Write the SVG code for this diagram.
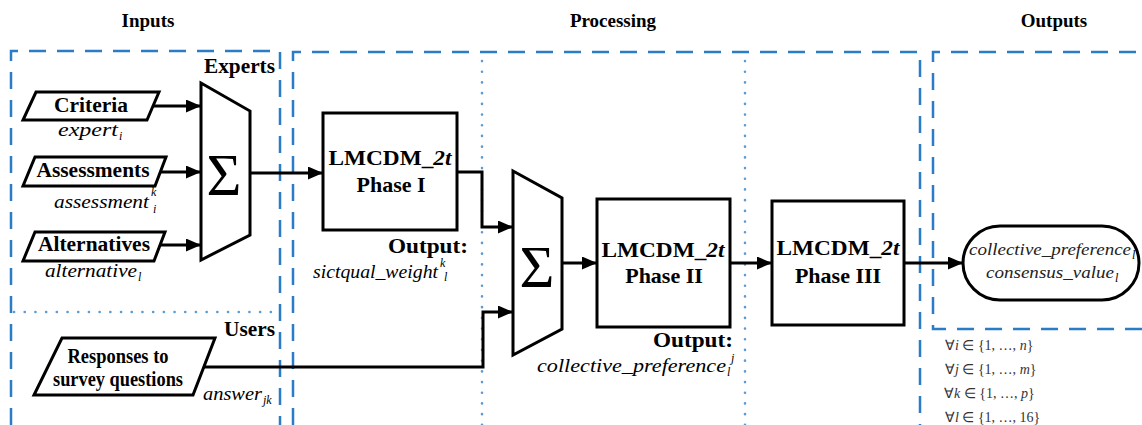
<svg xmlns="http://www.w3.org/2000/svg" width="1142" height="425" viewBox="0 0 1142 425">
<style>
.title{font-family:'Liberation Serif',serif;font-weight:bold;font-size:19px;fill:#000;text-anchor:middle}
.lbl{font-family:'Liberation Serif',serif;font-weight:bold;font-size:20px;fill:#000}
.box{font-family:'Liberation Serif',serif;font-weight:bold;font-size:22px;fill:#000;text-anchor:middle}
.it{font-family:'Liberation Serif',serif;font-style:italic;font-size:19px;fill:#000}
.sub{font-family:'Liberation Serif',serif;font-style:italic;font-size:12px;fill:#000}
.out{font-family:'Liberation Serif',serif;font-style:italic;font-size:17px;fill:#222}
.math{font-family:'Liberation Serif',serif;font-size:14px;fill:#333}
.sig{font-family:'Liberation Serif',serif;font-size:60px;fill:#000;text-anchor:middle}
.shape{fill:#fff;stroke:#000;stroke-width:3;stroke-linejoin:miter}
.dash{fill:none;stroke:#2A7CC7;stroke-width:2.5;stroke-dasharray:17 11}
.dot{fill:none;stroke:#5B9BD5;stroke-width:2.6;stroke-dasharray:0.1 10.6;stroke-linecap:round}
.con{fill:none;stroke:#000;stroke-width:3}
</style>
<defs>
<marker id="ah" markerWidth="15" markerHeight="13" refX="15" refY="6.5" orient="auto" markerUnits="userSpaceOnUse"><path d="M0,0 L15,6.5 L0,13 z" fill="#000"/></marker>
</defs>
<rect width="1142" height="425" fill="#fff"/>
<g id="titles">
<text class="title" x="148" y="27">Inputs</text>
<text class="title" x="613" y="27">Processing</text>
<text class="title" x="1054" y="27">Outputs</text>
</g>
<g id="regions">
<path class="dash" d="M11,425 V51 H280 V425"/>
<path class="dash" d="M293,425 V52 H920 V425"/>
<path class="dash" d="M1142,329 H933 V52 H1142"/>
<path class="dot" d="M14,312 H280"/>
<path class="dot" d="M482,61 V425"/>
<path class="dot" d="M745,61 V425"/>
<text class="lbl" x="275" y="73" text-anchor="end" textLength="71" lengthAdjust="spacingAndGlyphs">Experts</text>
<text class="lbl" x="275" y="336" text-anchor="end" textLength="51" lengthAdjust="spacingAndGlyphs">Users</text>
</g>
<g id="connectors">
<line class="con" x1="153" y1="106" x2="201" y2="106" marker-end="url(#ah)"/>
<line class="con" x1="160" y1="172" x2="201" y2="172" marker-end="url(#ah)"/>
<line class="con" x1="159" y1="245" x2="201" y2="245" marker-end="url(#ah)"/>
<line class="con" x1="250" y1="173" x2="323" y2="173" marker-end="url(#ah)"/>
<path class="con" d="M457,172 H482 V227 H513" marker-end="url(#ah)"/>
<path class="con" d="M204,367 H483 V312 H513" marker-end="url(#ah)"/>
<line class="con" x1="562" y1="263" x2="597" y2="263" marker-end="url(#ah)"/>
<line class="con" x1="730" y1="263" x2="772" y2="263" marker-end="url(#ah)"/>
<line class="con" x1="904" y1="263" x2="963" y2="263" marker-end="url(#ah)"/>
</g>
<g id="criteria">
<polygon class="shape" points="36,92 159,92 147,120 23,120"/>
<text class="lbl" x="91" y="112" text-anchor="middle" textLength="74" lengthAdjust="spacingAndGlyphs">Criteria</text>
<text class="it" x="58" y="136" textLength="60" lengthAdjust="spacingAndGlyphs">expert</text><text class="sub" x="119" y="140">i</text>
</g>
<g id="assessments">
<polygon class="shape" points="35,157 166,157 155,186 23,186"/>
<text class="lbl" x="93" y="177" text-anchor="middle" textLength="113" lengthAdjust="spacingAndGlyphs">Assessments</text>
<text class="it" x="54" y="208" textLength="95" lengthAdjust="spacingAndGlyphs">assessment</text><text class="sub" x="151" y="196">k</text><text class="sub" x="153" y="213">i</text>
</g>
<g id="alternatives">
<polygon class="shape" points="35,232 165,232 154,261 23,261"/>
<text class="lbl" x="94" y="251" text-anchor="middle" textLength="112" lengthAdjust="spacingAndGlyphs">Alternatives</text>
<text class="it" x="45" y="277" textLength="92" lengthAdjust="spacingAndGlyphs">alternative</text><text class="sub" x="138" y="281">l</text>
</g>
<g id="responses">
<polygon class="shape" points="62,338 215,338 193,395 34,395"/>
<text class="lbl" x="118" y="363" text-anchor="middle" font-size="16" textLength="101" lengthAdjust="spacingAndGlyphs">Responses to</text>
<text class="lbl" x="118" y="386" text-anchor="middle" font-size="16" textLength="130" lengthAdjust="spacingAndGlyphs">survey questions</text>
<text class="it" x="203" y="400" textLength="59" lengthAdjust="spacingAndGlyphs">answer</text><text class="sub" x="263" y="404">jk</text>
</g>
<g id="sum1">
<polygon class="shape" points="201,83 250,111 250,235 201,260"/>
<text class="sig" x="224" y="195">Σ</text>
</g>
<g id="phase1">
<rect class="shape" x="323" y="113" width="134" height="117"/>
<text class="box" x="390" y="165" textLength="123" lengthAdjust="spacingAndGlyphs">LMCDM_<tspan font-style="italic">2t</tspan></text>
<text class="box" x="391" y="192">Phase I</text>
<text class="lbl" x="468" y="253" text-anchor="end" textLength="80" lengthAdjust="spacingAndGlyphs">Output:</text>
<text class="it" x="313" y="278" textLength="125" lengthAdjust="spacingAndGlyphs">sictqual_weight</text><text class="sub" x="440" y="267">k</text><text class="sub" x="444" y="281">l</text>
</g>
<g id="sum2">
<polygon class="shape" points="513,171 562,198 562,329 513,355"/>
<text class="sig" x="537" y="287">Σ</text>
</g>
<g id="phase2">
<rect class="shape" x="597" y="199" width="133" height="128"/>
<text class="box" x="663" y="257" textLength="123" lengthAdjust="spacingAndGlyphs">LMCDM_<tspan font-style="italic">2t</tspan></text>
<text class="box" x="664" y="283">Phase II</text>
<text class="lbl" x="733" y="347" text-anchor="end" textLength="80" lengthAdjust="spacingAndGlyphs">Output:</text>
<text class="it" x="537" y="372" textLength="189" lengthAdjust="spacingAndGlyphs">collective_preference</text><text class="sub" x="727" y="376">l</text><text class="sub" x="731" y="362">j</text>
</g>
<g id="phase3">
<rect class="shape" x="772" y="201" width="132" height="124"/>
<text class="box" x="838" y="255" textLength="123" lengthAdjust="spacingAndGlyphs">LMCDM_<tspan font-style="italic">2t</tspan></text>
<text class="box" x="838" y="283">Phase III</text>
</g>
<g id="result">
<rect class="shape" x="963" y="226" width="176" height="74" rx="37" ry="37"/>
<text class="out" x="969" y="255" textLength="162" lengthAdjust="spacingAndGlyphs">collective_preference</text><text class="sub" x="1132" y="259" fill="#222">l</text>
<text class="out" x="986" y="278" textLength="128" lengthAdjust="spacingAndGlyphs">consensus_value</text><text class="sub" x="1115" y="282" fill="#222">l</text>
</g>
<g id="domains">
<text class="math" x="945" y="350">∀<tspan font-style="italic">i</tspan> ∈ {1, …, <tspan font-style="italic">n</tspan>}</text>
<text class="math" x="945" y="374">∀<tspan font-style="italic">j</tspan> ∈ {1, …, <tspan font-style="italic">m</tspan>}</text>
<text class="math" x="944" y="398">∀<tspan font-style="italic">k</tspan> ∈ {1, …, <tspan font-style="italic">p</tspan>}</text>
<text class="math" x="945" y="422">∀<tspan font-style="italic">l</tspan> ∈ {1, …, 16}</text>
</g>
</svg>
